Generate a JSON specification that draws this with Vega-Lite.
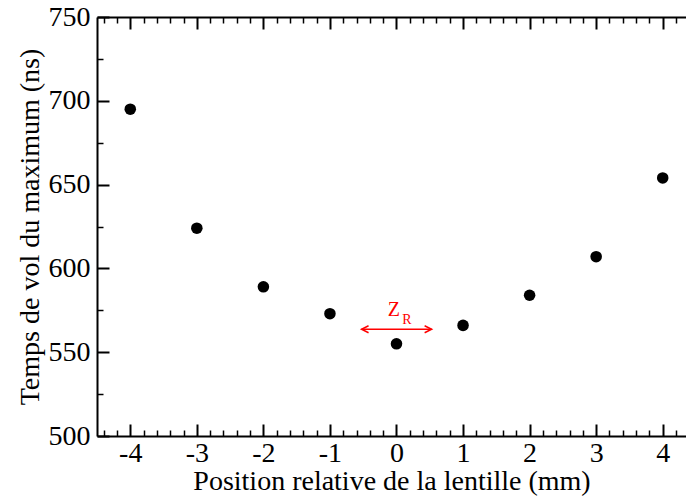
{
  "$schema": "https://vega.github.io/schema/vega-lite/v6.json",
  "width": 589,
  "height": 419,
  "autosize": {"type": "none"},
  "padding": {"left": 97, "top": 17, "right": 0, "bottom": 61},
  "background": "white",
  "datasets": {
    "pts": [
      {"pos": -4, "t": 695},
      {"pos": -3, "t": 624},
      {"pos": -2, "t": 589},
      {"pos": -1, "t": 573},
      {"pos": 0, "t": 555},
      {"pos": 1, "t": 566},
      {"pos": 2, "t": 584},
      {"pos": 3, "t": 607},
      {"pos": 4, "t": 654}
    ],
    "arrow": [
      {"x1": -0.525, "x2": 0.528, "y": 563.7}
    ],
    "heads": [
      {"x": -0.525, "y": 563.7, "side": "left"},
      {"x": 0.528, "y": 563.7, "side": "right"}
    ],
    "labelZ": [{"x": -0.04, "y": 571.6, "txt": "Z"}],
    "labelR": [{"x": 0.155, "y": 566.8, "txt": "R"}]
  },
  "layer": [
    {
      "data": {"name": "pts"},
      "mark": {"type": "point", "filled": true, "opacity": 0},
      "encoding": {
        "x": {"field": "pos", "type": "quantitative",
          "scale": {"domain": [-4.5, 4.35], "nice": false, "zero": false},
          "axis": {"orient": "bottom", "values": [-4, -3, -2, -1, 0, 1, 2, 3, 4], "offset": -12, "ticks": true, "tickSize": 12, "tickColor": "#000000", "tickOpacity": 1, "tickWidth": 2, "zindex": 2, "labels": false, "domain": false, "title": null}},
        "y": {"field": "t", "type": "quantitative",
          "scale": {"domain": [500, 750], "nice": false, "zero": false},
          "axis": {"orient": "left", "values": [500, 550, 600, 650, 700, 750], "offset": -12, "ticks": true, "tickSize": 12, "tickColor": "#000000", "tickOpacity": 1, "tickWidth": 2, "zindex": 2, "labels": false, "domain": false, "title": null}}
      }
    },
    {
      "data": {"name": "pts"},
      "mark": {"type": "point", "filled": true, "opacity": 0},
      "encoding": {
        "x": {"field": "pos", "type": "quantitative",
          "scale": {"domain": [-4.5, 4.35], "nice": false, "zero": false},
          "axis": {"orient": "bottom", "values": [-4.4, -4.2, -3.8, -3.6, -3.4, -3.2, -2.8, -2.6, -2.4, -2.2, -1.8, -1.6, -1.4, -1.2, -0.8, -0.6, -0.4, -0.2, 0.2, 0.4, 0.6, 0.8, 1.2, 1.4, 1.6, 1.8, 2.2, 2.4, 2.6, 2.8, 3.2, 3.4, 3.6, 3.8, 4.2],
            "offset": -6, "ticks": true, "tickSize": 6, "tickColor": "#000000", "tickOpacity": 1, "tickWidth": 1.5, "zindex": 2, "labels": false, "domain": false, "title": null}},
        "y": {"field": "t", "type": "quantitative",
          "scale": {"domain": [500, 750], "nice": false, "zero": false},
          "axis": {"orient": "left", "values": [525, 575, 625, 675, 725], "offset": -6, "ticks": true, "tickSize": 6, "tickColor": "#000000", "tickOpacity": 1, "tickWidth": 1.5, "zindex": 2, "labels": false, "domain": false, "title": null}}
      }
    },
    {
      "data": {"name": "pts"},
      "mark": {"type": "point", "filled": true, "opacity": 0},
      "encoding": {
        "x": {"field": "pos", "type": "quantitative",
          "scale": {"domain": [-4.5, 4.35], "nice": false, "zero": false},
          "axis": {"orient": "top", "values": [-4, -3, -2, -1, 0, 1, 2, 3, 4], "offset": -12, "ticks": true, "tickSize": 12, "tickColor": "#000000", "tickOpacity": 1, "tickWidth": 2, "zindex": 2, "labels": false, "domain": false, "title": null}},
        "y": {"field": "t", "type": "quantitative",
          "scale": {"domain": [500, 750], "nice": false, "zero": false}, "axis": null}
      }
    },
    {
      "data": {"name": "pts"},
      "mark": {"type": "point", "filled": true, "opacity": 0},
      "encoding": {
        "x": {"field": "pos", "type": "quantitative",
          "scale": {"domain": [-4.5, 4.35], "nice": false, "zero": false},
          "axis": {"orient": "top", "values": [-4.4, -4.2, -3.8, -3.6, -3.4, -3.2, -2.8, -2.6, -2.4, -2.2, -1.8, -1.6, -1.4, -1.2, -0.8, -0.6, -0.4, -0.2, 0.2, 0.4, 0.6, 0.8, 1.2, 1.4, 1.6, 1.8, 2.2, 2.4, 2.6, 2.8, 3.2, 3.4, 3.6, 3.8, 4.2],
            "offset": -6, "ticks": true, "tickSize": 6, "tickColor": "#000000", "tickOpacity": 1, "tickWidth": 1.5, "zindex": 2, "labels": false, "domain": false, "title": null}},
        "y": {"field": "t", "type": "quantitative",
          "scale": {"domain": [500, 750], "nice": false, "zero": false}, "axis": null}
      }
    },
    {
      "data": {"name": "pts"},
      "mark": {"type": "point", "filled": true, "opacity": 0},
      "encoding": {
        "x": {"field": "pos", "type": "quantitative",
          "scale": {"domain": [-4.5, 4.35], "nice": false, "zero": false},
          "axis": {"orient": "top", "ticks": false, "labels": false, "domain": true, "title": null}},
        "y": {"field": "t", "type": "quantitative",
          "scale": {"domain": [500, 750], "nice": false, "zero": false}, "axis": null}
      }
    },
    {
      "data": {"name": "pts"},
      "mark": {"type": "point", "filled": true, "color": "black", "opacity": 1, "size": 133},
      "encoding": {
        "x": {"field": "pos", "type": "quantitative",
          "scale": {"domain": [-4.5, 4.35], "nice": false, "zero": false},
          "axis": {"orient": "bottom", "values": [-4, -3, -2, -1, 0, 1, 2, 3, 4], "ticks": false, "labelPadding": 3,
            "labelExpr": "datum.value < 0 ? '-' + abs(datum.value) : '' + datum.value",
            "title": "Position relative de la lentille (mm)", "titlePadding": 0, "labelFlush": false}},
        "y": {"field": "t", "type": "quantitative",
          "scale": {"domain": [500, 750], "nice": false, "zero": false},
          "axis": {"orient": "left", "values": [500, 550, 600, 650, 700, 750], "ticks": false, "labelPadding": 7,
            "title": "Temps de vol du maximum (ns)", "titlePadding": 4}}
      }
    },
    {
      "data": {"name": "arrow"},
      "mark": {"type": "rule", "color": "#ff0000", "strokeWidth": 1.5},
      "encoding": {
        "x": {"field": "x1", "type": "quantitative", "scale": {"domain": [-4.5, 4.35], "nice": false, "zero": false}, "axis": null},
        "x2": {"field": "x2"},
        "y": {"field": "y", "type": "quantitative", "scale": {"domain": [500, 750], "nice": false, "zero": false}, "axis": null}
      }
    },
    {
      "data": {"name": "heads"},
      "mark": {"type": "point", "filled": false, "color": "#ff0000", "strokeWidth": 1.5, "size": 196, "opacity": 1},
      "encoding": {
        "x": {"field": "x", "type": "quantitative", "scale": {"domain": [-4.5, 4.35], "nice": false, "zero": false}, "axis": null},
        "y": {"field": "y", "type": "quantitative", "scale": {"domain": [500, 750], "nice": false, "zero": false}, "axis": null},
        "shape": {"field": "side", "type": "nominal", "legend": null,
          "scale": {"domain": ["left", "right"], "range": ["M1,-0.5L0,0L1,0.5", "M-1,-0.5L0,0L-1,0.5"]}}
      }
    },
    {
      "data": {"name": "labelZ"},
      "mark": {"type": "text", "color": "#ff0000", "font": "Liberation Serif", "fontSize": 20, "align": "center", "baseline": "alphabetic"},
      "encoding": {
        "x": {"field": "x", "type": "quantitative", "scale": {"domain": [-4.5, 4.35], "nice": false, "zero": false}, "axis": null},
        "y": {"field": "y", "type": "quantitative", "scale": {"domain": [500, 750], "nice": false, "zero": false}, "axis": null},
        "text": {"field": "txt"}
      }
    },
    {
      "data": {"name": "labelR"},
      "mark": {"type": "text", "color": "#ff0000", "font": "Liberation Serif", "fontSize": 14, "align": "center", "baseline": "alphabetic"},
      "encoding": {
        "x": {"field": "x", "type": "quantitative", "scale": {"domain": [-4.5, 4.35], "nice": false, "zero": false}, "axis": null},
        "y": {"field": "y", "type": "quantitative", "scale": {"domain": [500, 750], "nice": false, "zero": false}, "axis": null},
        "text": {"field": "txt"}
      }
    }
  ],
  "resolve": {"scale": {"x": "independent", "y": "independent"}, "axis": {"x": "independent", "y": "independent"}},
  "config": {
    "view": {"stroke": null},
    "axis": {
      "grid": false,
      "domainColor": "black",
      "domainWidth": 2,
      "tickColor": "black",
      "tickWidth": 1.5,
      "labelFont": "Liberation Serif",
      "labelFontSize": 28,
      "labelColor": "black",
      "titleFont": "Liberation Serif",
      "titleFontSize": 28,
      "titleFontWeight": "normal",
      "titleColor": "black"
    }
  }
}
